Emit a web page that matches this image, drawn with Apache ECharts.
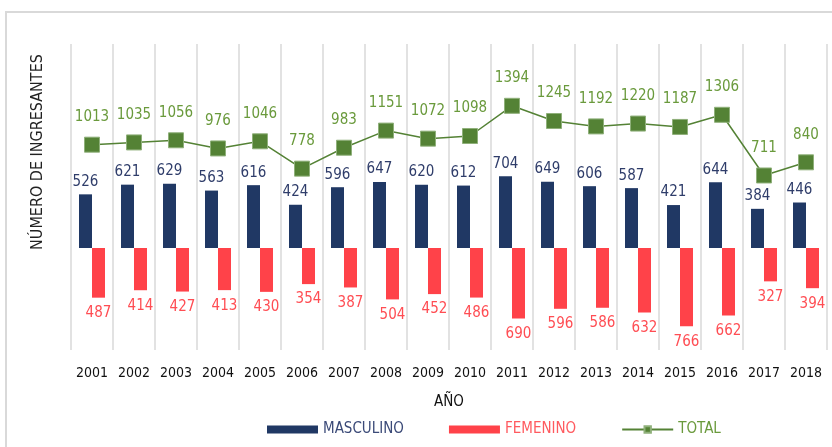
<!DOCTYPE html>
<html>
<head>
<meta charset="utf-8">
<script src="https://cdn.jsdelivr.net/npm/echarts@6/dist/echarts.min.js"></script>
<style>
  html, body { margin: 0; padding: 0; background: #fff; }
  #chart { width: 832px; height: 447px; }
</style>
</head>
<body>
<div id="chart"></div>
<script>
/* ---------- 数据 ---------- */
const years = ['2001', '2002', '2003', '2004', '2005', '2006', '2007', '2008', '2009',
  '2010', '2011', '2012', '2013', '2014', '2015', '2016', '2017', '2018']
const masculino = [526, 621, 629, 563, 616, 424, 596, 647, 620, 612, 704, 649, 606, 587, 421, 644, 384, 446]
const femenino = [487, 414, 427, 413, 430, 354, 387, 504, 452, 486, 690, 596, 586, 632, 766, 662, 327, 394]
const total = [1013, 1035, 1056, 976, 1046, 778, 983, 1151, 1072, 1098, 1394, 1245, 1192, 1220, 1187, 1306, 711, 840]

/* ---------- 颜色 ---------- */
const navy = '#203864'
const red = '#ff4249'
const green = '#548235'
const font = '"Liberation Sans Narrow", "DejaVu Sans Condensed", "Liberation Sans", sans-serif'

const chart = echarts.init(document.getElementById('chart'))

chart.setOption({
  animation: false,
  textStyle: { fontFamily: font },
  graphic: [
    {
      type: 'rect',
      shape: { x: 6, y: 12, width: 900, height: 500 },
      style: { fill: 'none', stroke: '#d9d9d9', lineWidth: 2 },
      silent: true
    },
    {
      type: 'text',
      x: 38,
      y: 152,
      rotation: Math.PI / 2,
      style: {
        text: 'NÚMERO DE INGRESANTES',
        fill: '#222',
        font: '16px ' + font,
        align: 'center',
        verticalAlign: 'middle'
      }
    }
  ],
  grid: { left: 71, right: 5, top: 44, bottom: 97 },
  legend: {
    bottom: 5,
    left: 262,
    itemWidth: 51,
    itemHeight: 8,
    itemGap: 45,
    textStyle: { fontSize: 15, fontFamily: font },
    data: [
      { name: 'MASCULINO', icon: 'rect', textStyle: { color: '#3b4a78' } },
      { name: 'FEMENINO', icon: 'rect', textStyle: { color: '#ff5a5f' } },
      { name: 'TOTAL', textStyle: { color: '#6a9a3c' } }
    ]
  },
  xAxis: {
    type: 'category',
    data: years,
    boundaryGap: true,
    axisLine: { show: false },
    axisTick: { show: false },
    axisLabel: { color: '#111', fontSize: 14, margin: 16, interval: 0, fontFamily: font },
    splitLine: { show: true, interval: 0, lineStyle: { color: '#d9d9d9', width: 1.5 } },
    name: 'AÑO',
    nameLocation: 'middle',
    nameGap: 45,
    nameTextStyle: { color: '#111', fontSize: 15, fontFamily: font }
  },
  yAxis: {
    type: 'value',
    min: -1000,
    max: 2000,
    interval: 500,
    show: false,
    splitLine: { show: false }
  },
  series: [
    {
      name: 'MASCULINO',
      type: 'bar',
      data: masculino,
      barWidth: 13,
      barGap: '0%',
      itemStyle: { color: navy },
      label: {
        show: true,
        position: 'top',
        distance: 5,
        color: '#2f3d6a',
        fontSize: 15,
        fontFamily: font
      }
    },
    {
      name: 'FEMENINO',
      type: 'bar',
      data: femenino.map((v) => -v),
      barWidth: 13,
      barGap: '0%',
      itemStyle: { color: red },
      label: {
        show: true,
        position: 'bottom',
        distance: 8,
        color: '#ff4d53',
        fontSize: 15,
        fontFamily: font,
        formatter: (p) => Math.abs(p.value)
      }
    },
    {
      name: 'TOTAL',
      type: 'line',
      data: total,
      symbol: 'rect',
      symbolSize: 15,
      itemStyle: { color: green, borderColor: '#8fb07a', borderWidth: 1 },
      lineStyle: { color: green, width: 1.5 },
      label: {
        show: true,
        position: 'top',
        distance: 12,
        color: '#6a9a3c',
        fontSize: 15,
        fontFamily: font
      },
      z: 5
    }
  ]
})
</script>
</body>
</html>
